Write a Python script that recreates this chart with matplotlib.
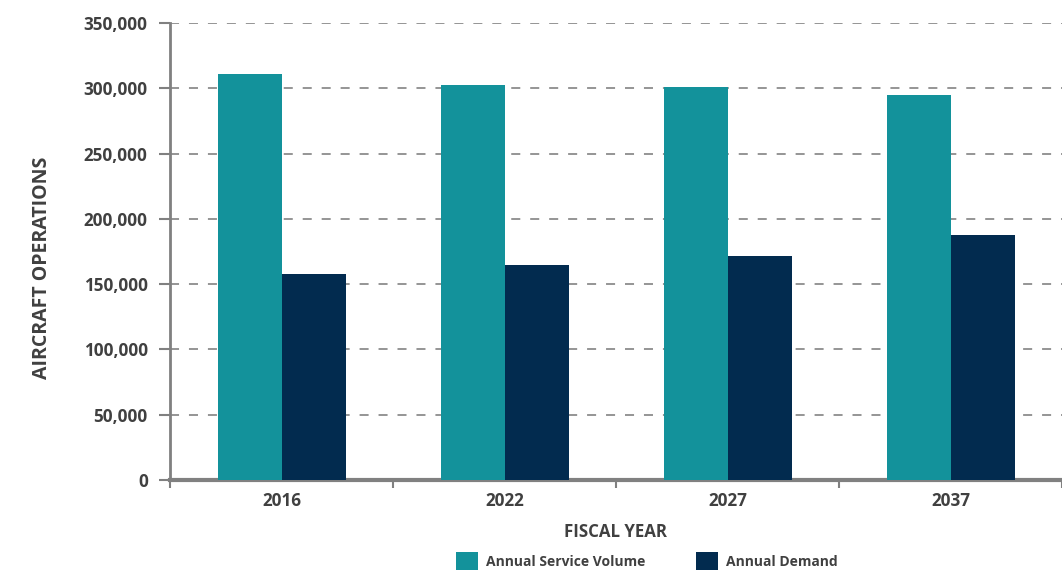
import matplotlib.pyplot as plt
import numpy as np
from matplotlib.ticker import FuncFormatter, FixedLocator

# datos
years = ["2016", "2022", "2027", "2037"]
service_volume = [311000, 302500, 301000, 295000]
demand = [158000, 165000, 171500, 187500]

teal = "#13929B"
navy = "#022B4F"
grey = "#808080"
txt = "#404040"

plt.rcParams["font.family"] = ["Open Sans", "DejaVu Sans"]

fig = plt.figure(figsize=(10.62, 5.73), dpi=100)
ax = fig.add_axes([170 / 1062, 1 - 480 / 573, 1 - 170 / 1062, (480 - 23) / 573])

x = np.arange(len(years))
w = 64 / 223
ax.bar(x - w / 2, service_volume, w, color=teal, label="Annual Service Volume", zorder=3)
ax.bar(x + w / 2, demand, w, color=navy, label="Annual Demand", zorder=3)

ax.set_xlim(-0.5, len(years) - 0.5)
ax.set_ylim(0, 350000)
ax.set_yticks(range(0, 350001, 50000))
ax.yaxis.set_major_formatter(FuncFormatter(lambda v, p: f"{int(v):,}"))
ax.yaxis.grid(True, linestyle=(0, (5, 5.5)), color="#8c8c8c", linewidth=1.3, zorder=0)

ax.set_xticks(x)
ax.set_xticklabels(years)
ax.xaxis.set_minor_locator(FixedLocator(np.arange(-0.5, len(years), 1.0)))
ax.tick_params(axis="x", which="major", length=0, pad=9, labelcolor=txt)
ax.tick_params(axis="x", which="minor", length=6, width=1.5, color=grey)
ax.tick_params(axis="y", length=8, width=1.5, color=grey, pad=8, labelcolor=txt)
for lab in ax.get_xticklabels() + ax.get_yticklabels():
    lab.set_fontweight("bold")
    lab.set_fontsize(12.3)

for s in ["top", "right"]:
    ax.spines[s].set_visible(False)
ax.spines["left"].set_color(grey)
ax.spines["left"].set_linewidth(2)
ax.spines["bottom"].set_color(grey)
ax.spines["bottom"].set_linewidth(3)

ax.set_xlabel("FISCAL YEAR", fontsize=12.2, fontweight="bold", color=txt, labelpad=9)
fig.text(42 / 1062, 1 - 268 / 573, "AIRCRAFT OPERATIONS", rotation=90, ha="center",
         va="center", fontsize=14, fontweight="bold", color=txt)

fig.legend(loc="center", bbox_to_anchor=(647 / 1062, 1 - 561 / 573), ncol=2, frameon=False,
           handlelength=1.6, handleheight=1.6, columnspacing=3.6,
           handletextpad=0.6, labelcolor=txt, prop={"weight": "bold", "size": 10})

fig.savefig("out.png", dpi=100)
